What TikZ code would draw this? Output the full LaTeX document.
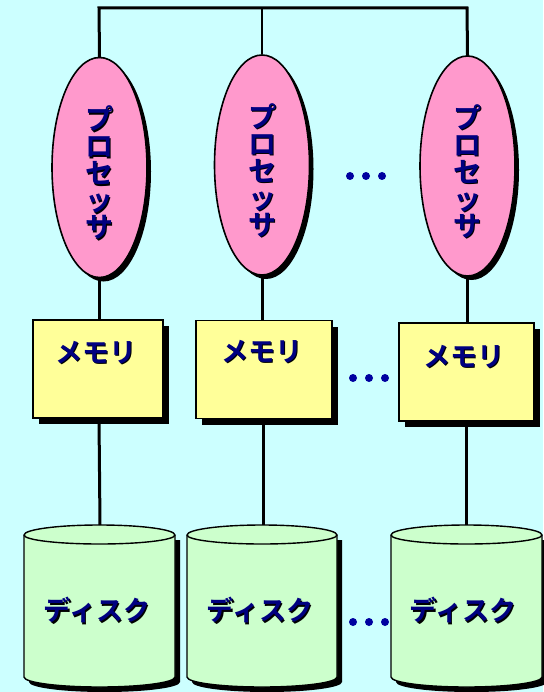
\documentclass[tikz,border=0pt]{standalone}
\usepackage{fontspec}
\usetikzlibrary{shapes.geometric,shadows}
\newfontfamily\jp{Noto Sans CJK JP}[BoldFont={Noto Sans CJK JP Bold}]
\definecolor{bgc}{RGB}{204,255,255}
\definecolor{pinkc}{RGB}{255,153,204}
\definecolor{yelc}{RGB}{255,255,153}
\definecolor{grnc}{RGB}{204,255,204}
\definecolor{navyc}{RGB}{0,0,128}
\definecolor{dotc}{RGB}{0,0,160}
\newcommand\shx[1]{\makebox[0pt][l]{\kern1.4pt\raisebox{-1.4pt}{\color{black}#1}}#1}
\tikzset{
  proc/.style={ellipse, draw=black, line width=1.6pt, fill=pinkc, minimum width=95pt, minimum height=220pt, inner sep=0pt,
    drop shadow={shadow xshift=4pt, shadow yshift=-4pt, fill=black, opacity=1}},
  mem/.style={rectangle, draw=black, line width=1.3pt, fill=yelc, minimum height=98pt, inner sep=0pt,
    drop shadow={shadow xshift=6pt, shadow yshift=-6pt, fill=black, opacity=1}},
  lbl/.style={text=navyc, font=\jp\bfseries\fontsize{27}{27}\selectfont, inner sep=0pt, align=center},
  vlbl/.style={text=navyc, font=\jp\bfseries\fontsize{28}{27}\selectfont, inner sep=0pt, align=center},
  conn/.style={line width=3pt, draw=black},
  bus/.style={line width=3pt, draw=black, line cap=rect},
}
\newcommand\diskshape[2]{% #1 cx, #2 rx
  \fill[black] ({#1-#2+5},540) -- ({#1-#2+5},682) arc[start angle=180,end angle=0,x radius=#2,y radius=10] -- ({#1+#2+5},540) -- cycle;
  \filldraw[fill=grnc, draw=black, line width=1.4pt] ({#1-#2},535) -- ({#1-#2},677) arc[start angle=180,end angle=0,x radius=#2,y radius=10] -- ({#1+#2},535) arc[start angle=0,end angle=-180,x radius=#2,y radius=10] -- cycle;
  \draw[black, line width=1.4pt] ({#1-#2},535) arc[start angle=180,end angle=0,x radius=#2,y radius=9];
}
\begin{document}
\begin{tikzpicture}[x=1pt,y=-1pt]
\fill[bgc] (0,0) rectangle (543,692);
\useasboundingbox (0,0) rectangle (543,692);
% processors
\node[proc] (p1) at (99.5,167.5) {};
\node[proc] (p2) at (262,165) {};
\node[proc] (p3) at (467.5,166) {};
\foreach \n in {1,2,3}
  \node[vlbl] (p\n t) at ([yshift=-6pt]p\n.center) {\shx{プ}\\\shx{ロ}\\\shx{セ}\\\shx{ッ}\\\shx{サ}};
% memories
\node[mem, minimum width=130pt] (m1) at (98,369) {};
\node[mem, minimum width=136pt] (m2) at (264,369.5) {};
\node[mem, minimum width=135pt] (m3) at (466.5,372) {};
\node[lbl] (m1t) at (96,353) {\shx{メモリ}};
\node[lbl] (m2t) at (262,352) {\shx{メモリ}};
\node[lbl] (m3t) at (464,357) {\shx{メモリ}};
% disks
\diskshape{99.5}{75.5}
\diskshape{262}{75}
\diskshape{466.5}{75.5}
\coordinate (d1top) at (100,525);
\coordinate (d2top) at (263,525);
\coordinate (d3top) at (466,525);
\node[lbl] (d1) at (97,611) {\shx{ディスク}};
\node[lbl] (d2) at (260,611) {\shx{ディスク}};
\node[lbl] (d3) at (463,611) {\shx{ディスク}};
% bus
\coordinate (b1) at (99,8);
\coordinate (b3) at (467,8);
\coordinate (b2) at (262,8);
\draw[bus] (p1.north) -- (b1) -- (b3) -- (p3.north);
\draw[line width=1.4pt] (p2.north) -- (b2);
% connectors
\draw[conn] (p1.south) -- (m1.north -| p1.south);
\draw[conn] (p2.south) -- (m2.north -| p2.south);
\draw[conn] (p3.south) -- (m3.north -| p3.south);
\draw[conn] (m1.south -| d1top) ++(-1,0) -- (d1top);
\draw[conn] (m2.south -| d2top) -- (d2top);
\draw[conn] (m3.south -| d3top) -- (d3top);
% dots
\foreach \y/\x in {176/366, 378/369, 622/369}
  \foreach \dx in {-16,0,16}
    \fill[dotc] (\x+\dx,\y) circle (4);
\end{tikzpicture}
\end{document}
